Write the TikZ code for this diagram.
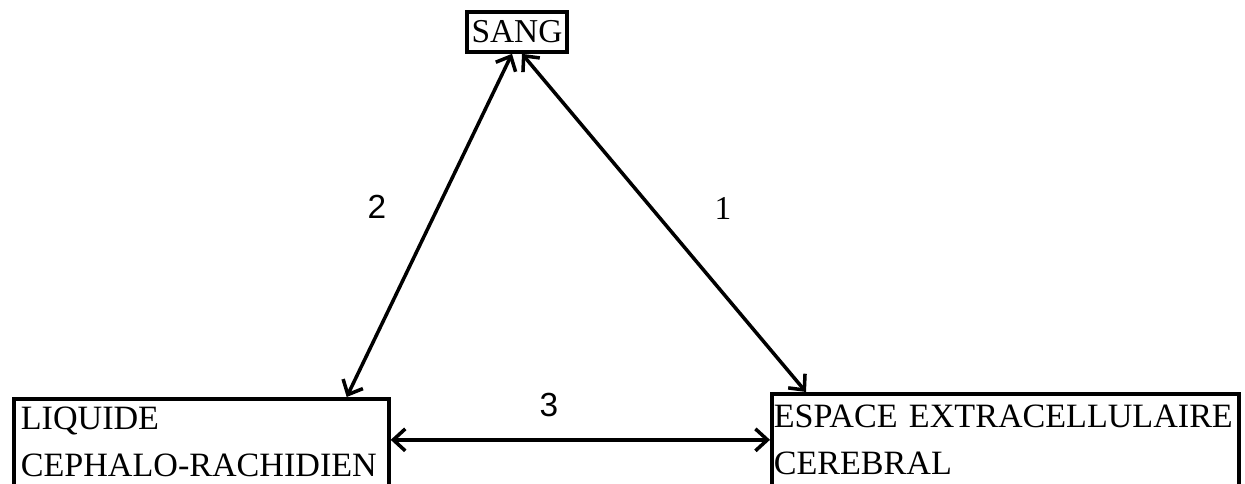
\documentclass[tikz,border=0pt]{standalone}
\usepackage{fontspec}
\setmainfont{Liberation Serif}
\newfontfamily\labelfont{Liberation Sans}
\usetikzlibrary{arrows.meta, positioning, calc}
\tikzset{
	compnode/.style={
			draw=black,
			line width=2.1pt,
			font=\fontsize{19.4}{26.7}\selectfont,
			align=left,
			inner ysep=0pt
		},
	linkarrow/.style={
			line width=2pt,
			{Straight Barb[length=0.24cm,width=0.44cm]}-{Straight Barb[length=0.24cm,width=0.44cm]}
		},
	numlabel/.style={
			font=\labelfont\fontsize{19}{22}\selectfont
		}
}
\begin{document}
\begin{tikzpicture}
\useasboundingbox (0,0) rectangle (24.9,9.68);
\node[compnode, minimum width=2cm, minimum height=0.8cm, inner xsep=0pt, font=\fontsize{19}{22}\selectfont] (sang) at (10.34,9.04) {SANG};
\node[compnode, anchor=north west, minimum width=7.5cm, minimum height=1.74cm, inner xsep=0.14cm, text width=7.22cm] (lcr) at (0.24,1.74) {\mbox{LIQUIDE}\\\mbox{CEPHALO-RACHIDIEN}};
\node[compnode, anchor=north west, minimum width=9.34cm, minimum height=1.84cm, inner xsep=0.04cm, text width=9.26cm] (eec) at (15.4,1.84) {\mbox{ESPACE EXTRACELLULAIRE}\\\mbox{CEREBRAL}};

\draw[linkarrow] ([xshift=0.1cm]sang.south) -- ([xshift=0.72cm]eec.north west);
\draw[linkarrow] ([xshift=-0.1cm]sang.south) -- ([xshift=-0.88cm]lcr.north east);
\draw[linkarrow] (eec.west -| lcr.east) -- (eec.west);

\node[numlabel, font=\fontsize{19}{22}\selectfont] (n1) at (14.46,5.52) {1};
\node[numlabel] (n2) at (7.54,5.54) {2};
\node[numlabel] (n3) at (10.98,1.58) {3};
\end{tikzpicture}
\end{document}
